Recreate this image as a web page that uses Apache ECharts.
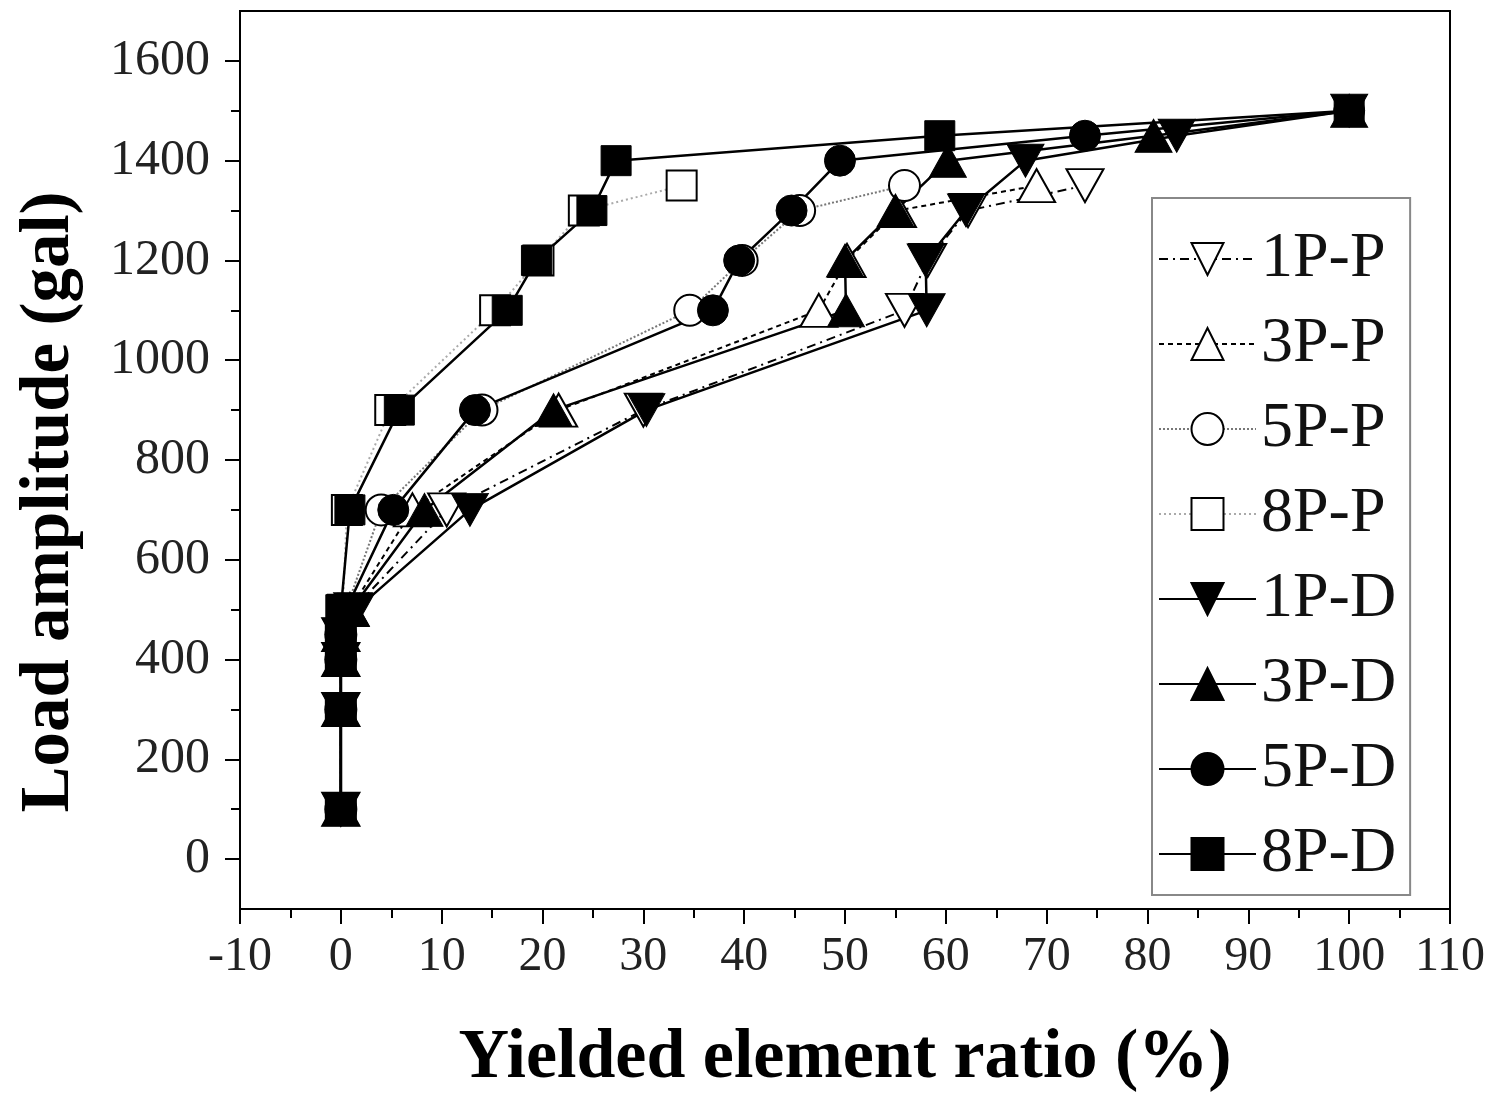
<!DOCTYPE html>
<html>
<head>
<meta charset="utf-8">
<script src="https://cdn.jsdelivr.net/npm/echarts@6/dist/echarts.min.js"></script>
<style>
  html, body { margin: 0; padding: 0; background: #fff; }
  #chart { width: 1496px; height: 1099px; }
</style>
</head>
<body>
<div id="chart"></div>
<script>
// ---- data (yielded element ratio %, load amplitude gal) ----
const loadsP = [100, 300, 400, 450, 500, 700, 900, 1100, 1200, 1300, 1350];
const loadsD = [100, 300, 400, 450, 500, 700, 900, 1100, 1200, 1300, 1400, 1450, 1500];

const ratio1PP = [0, 0, 0, 0, 1.2, 10.5, 30.0, 55.9, 58.2, 62.2, 73.8];
const ratio3PP = [0, 0, 0, 0, 0.9, 7.1, 21.6, 47.4, 50.2, 55.2, 69.0];
const ratio5PP = [0, 0, 0, 0, 0.5, 4.0, 14.0, 34.6, 39.8, 45.5, 55.9];
const ratio8PP = [0, 0, 0, 0, 0.2, 0.6, 4.9, 15.3, 19.6, 24.1, 33.8];

const ratio1PD = [0, 0, 0, 0, 1.5, 12.8, 30.3, 58.1, 58.0, 62.0, 67.9, 82.9, 100];
const ratio3PD = [0, 0, 0, 0, 1.0, 8.3, 21.1, 50.1, 50.0, 55.0, 60.2, 80.6, 100];
const ratio5PD = [0, 0, 0, 0, 0.5, 5.2, 13.3, 36.9, 39.5, 44.7, 49.5, 73.8, 100];
const ratio8PD = [0, 0, 0, 0, 0.0, 0.9, 5.8, 16.5, 19.4, 24.9, 27.3, 59.4, 100];

const seriesNames = ['1P-P', '3P-P', '5P-P', '8P-P', '1P-D', '3P-D', '5P-D', '8P-D'];
const yLabelValues = [0, 200, 400, 600, 800, 1000, 1200, 1400, 1600];
const yMinorValues = [100, 300, 500, 700, 900, 1100, 1300, 1500];

function pairs(xs, ys) { return xs.map((x, i) => [x, ys[i]]); }

const serif = "'Liberation Serif', 'Times New Roman', serif";
const openItem = { color: '#fff', borderColor: '#000', borderWidth: 2 };
const fillItem = { color: '#000', borderColor: '#000', borderWidth: 1 };

function mk(name, data, symbol, size, rotate, item, line) {
  return {
    name: name, type: 'line', data: data,
    symbol: symbol, symbolSize: size, symbolRotate: rotate,
    itemStyle: item, lineStyle: line,
    emphasis: { disabled: true }, animation: false
  };
}

const series = [
  mk(seriesNames[0], pairs(ratio1PP, loadsP), 'triangle', [37, 33], 180, openItem,
     { color: '#000', width: 2, type: [9, 5, 2, 5] }),
  mk(seriesNames[1], pairs(ratio3PP, loadsP), 'triangle', [37, 33], 0, openItem,
     { color: '#000', width: 2, type: [5, 4] }),
  mk(seriesNames[2], pairs(ratio5PP, loadsP), 'circle', 31, 0, openItem,
     { color: '#777', width: 2, type: [2, 2] }),
  mk(seriesNames[3], pairs(ratio8PP, loadsP), 'rect', 30, 0, openItem,
     { color: '#aaa', width: 2, type: [2, 3] }),
  mk(seriesNames[4], pairs(ratio1PD, loadsD), 'triangle', [37, 33], 180, fillItem,
     { color: '#000', width: 2.5, type: 'solid' }),
  mk(seriesNames[5], pairs(ratio3PD, loadsD), 'triangle', [37, 33], 0, fillItem,
     { color: '#000', width: 2.5, type: 'solid' }),
  mk(seriesNames[6], pairs(ratio5PD, loadsD), 'circle', 31, 0, fillItem,
     { color: '#000', width: 2.5, type: 'solid' }),
  mk(seriesNames[7], pairs(ratio8PD, loadsD), 'rect', 30, 0, fillItem,
     { color: '#000', width: 2.5, type: 'solid' })
];

const chart = echarts.init(document.getElementById('chart'), null, { renderer: 'canvas' });
chart.setOption({
  backgroundColor: '#fff',
  animation: false,
  grid: {
    left: 240, right: 46, top: 11, bottom: 190,
    show: true, borderColor: '#000', borderWidth: 2, backgroundColor: 'transparent'
  },
  legend: {
    data: seriesNames,
    orient: 'vertical',
    left: 1152, top: 198,
    itemWidth: 97, itemHeight: 40, itemGap: 21,
    padding: [29, 14, 9, 6],
    borderColor: '#888', borderWidth: 2, backgroundColor: '#fff',
    textStyle: { fontFamily: serif, fontSize: 64, color: '#111', lineHeight: 44 },
    selectedMode: false
  },
  xAxis: {
    type: 'value', min: -10, max: 110, interval: 10,
    name: 'Yielded element ratio (%)', nameLocation: 'middle', nameGap: 115,
    nameTextStyle: { fontFamily: serif, fontWeight: 'bold', fontSize: 70, color: '#000' },
    axisLine: { show: true, onZero: false, lineStyle: { color: '#000', width: 2 } },
    axisTick: { show: true, length: 15, lineStyle: { color: '#000', width: 2 } },
    minorTick: { show: true, splitNumber: 2, length: 9, lineStyle: { color: '#000', width: 2 } },
    axisLabel: { fontFamily: serif, fontSize: 48, color: '#222', margin: 24,
                 formatter: function (v) { return String(v); } },
    splitLine: { show: false }
  },
  yAxis: [
    {
      type: 'value', min: -100, max: 1700, position: 'left',
      name: 'Load amplitude (gal)', nameLocation: 'middle', nameGap: 155,
      nameTextStyle: { fontFamily: serif, fontWeight: 'bold', fontSize: 69, color: '#000',
                       padding: [0, 84, 0, 0] },
      axisLine: { show: true, onZero: false, lineStyle: { color: '#000', width: 2 } },
      axisTick: { show: true, length: 15, customValues: yLabelValues,
                  lineStyle: { color: '#000', width: 2 } },
      axisLabel: { fontFamily: serif, fontSize: 50, color: '#222', margin: 30,
                   customValues: yLabelValues,
                   formatter: function (v) { return String(v); } },
      splitLine: { show: false }
    },
    {
      type: 'value', min: -100, max: 1700, position: 'left', offset: 0,
      axisLine: { show: false, onZero: false },
      axisTick: { show: true, length: 9, customValues: yMinorValues,
                  lineStyle: { color: '#000', width: 2 } },
      axisLabel: { show: false },
      splitLine: { show: false }
    }
  ],
  series: series
});
</script>
</body>
</html>
